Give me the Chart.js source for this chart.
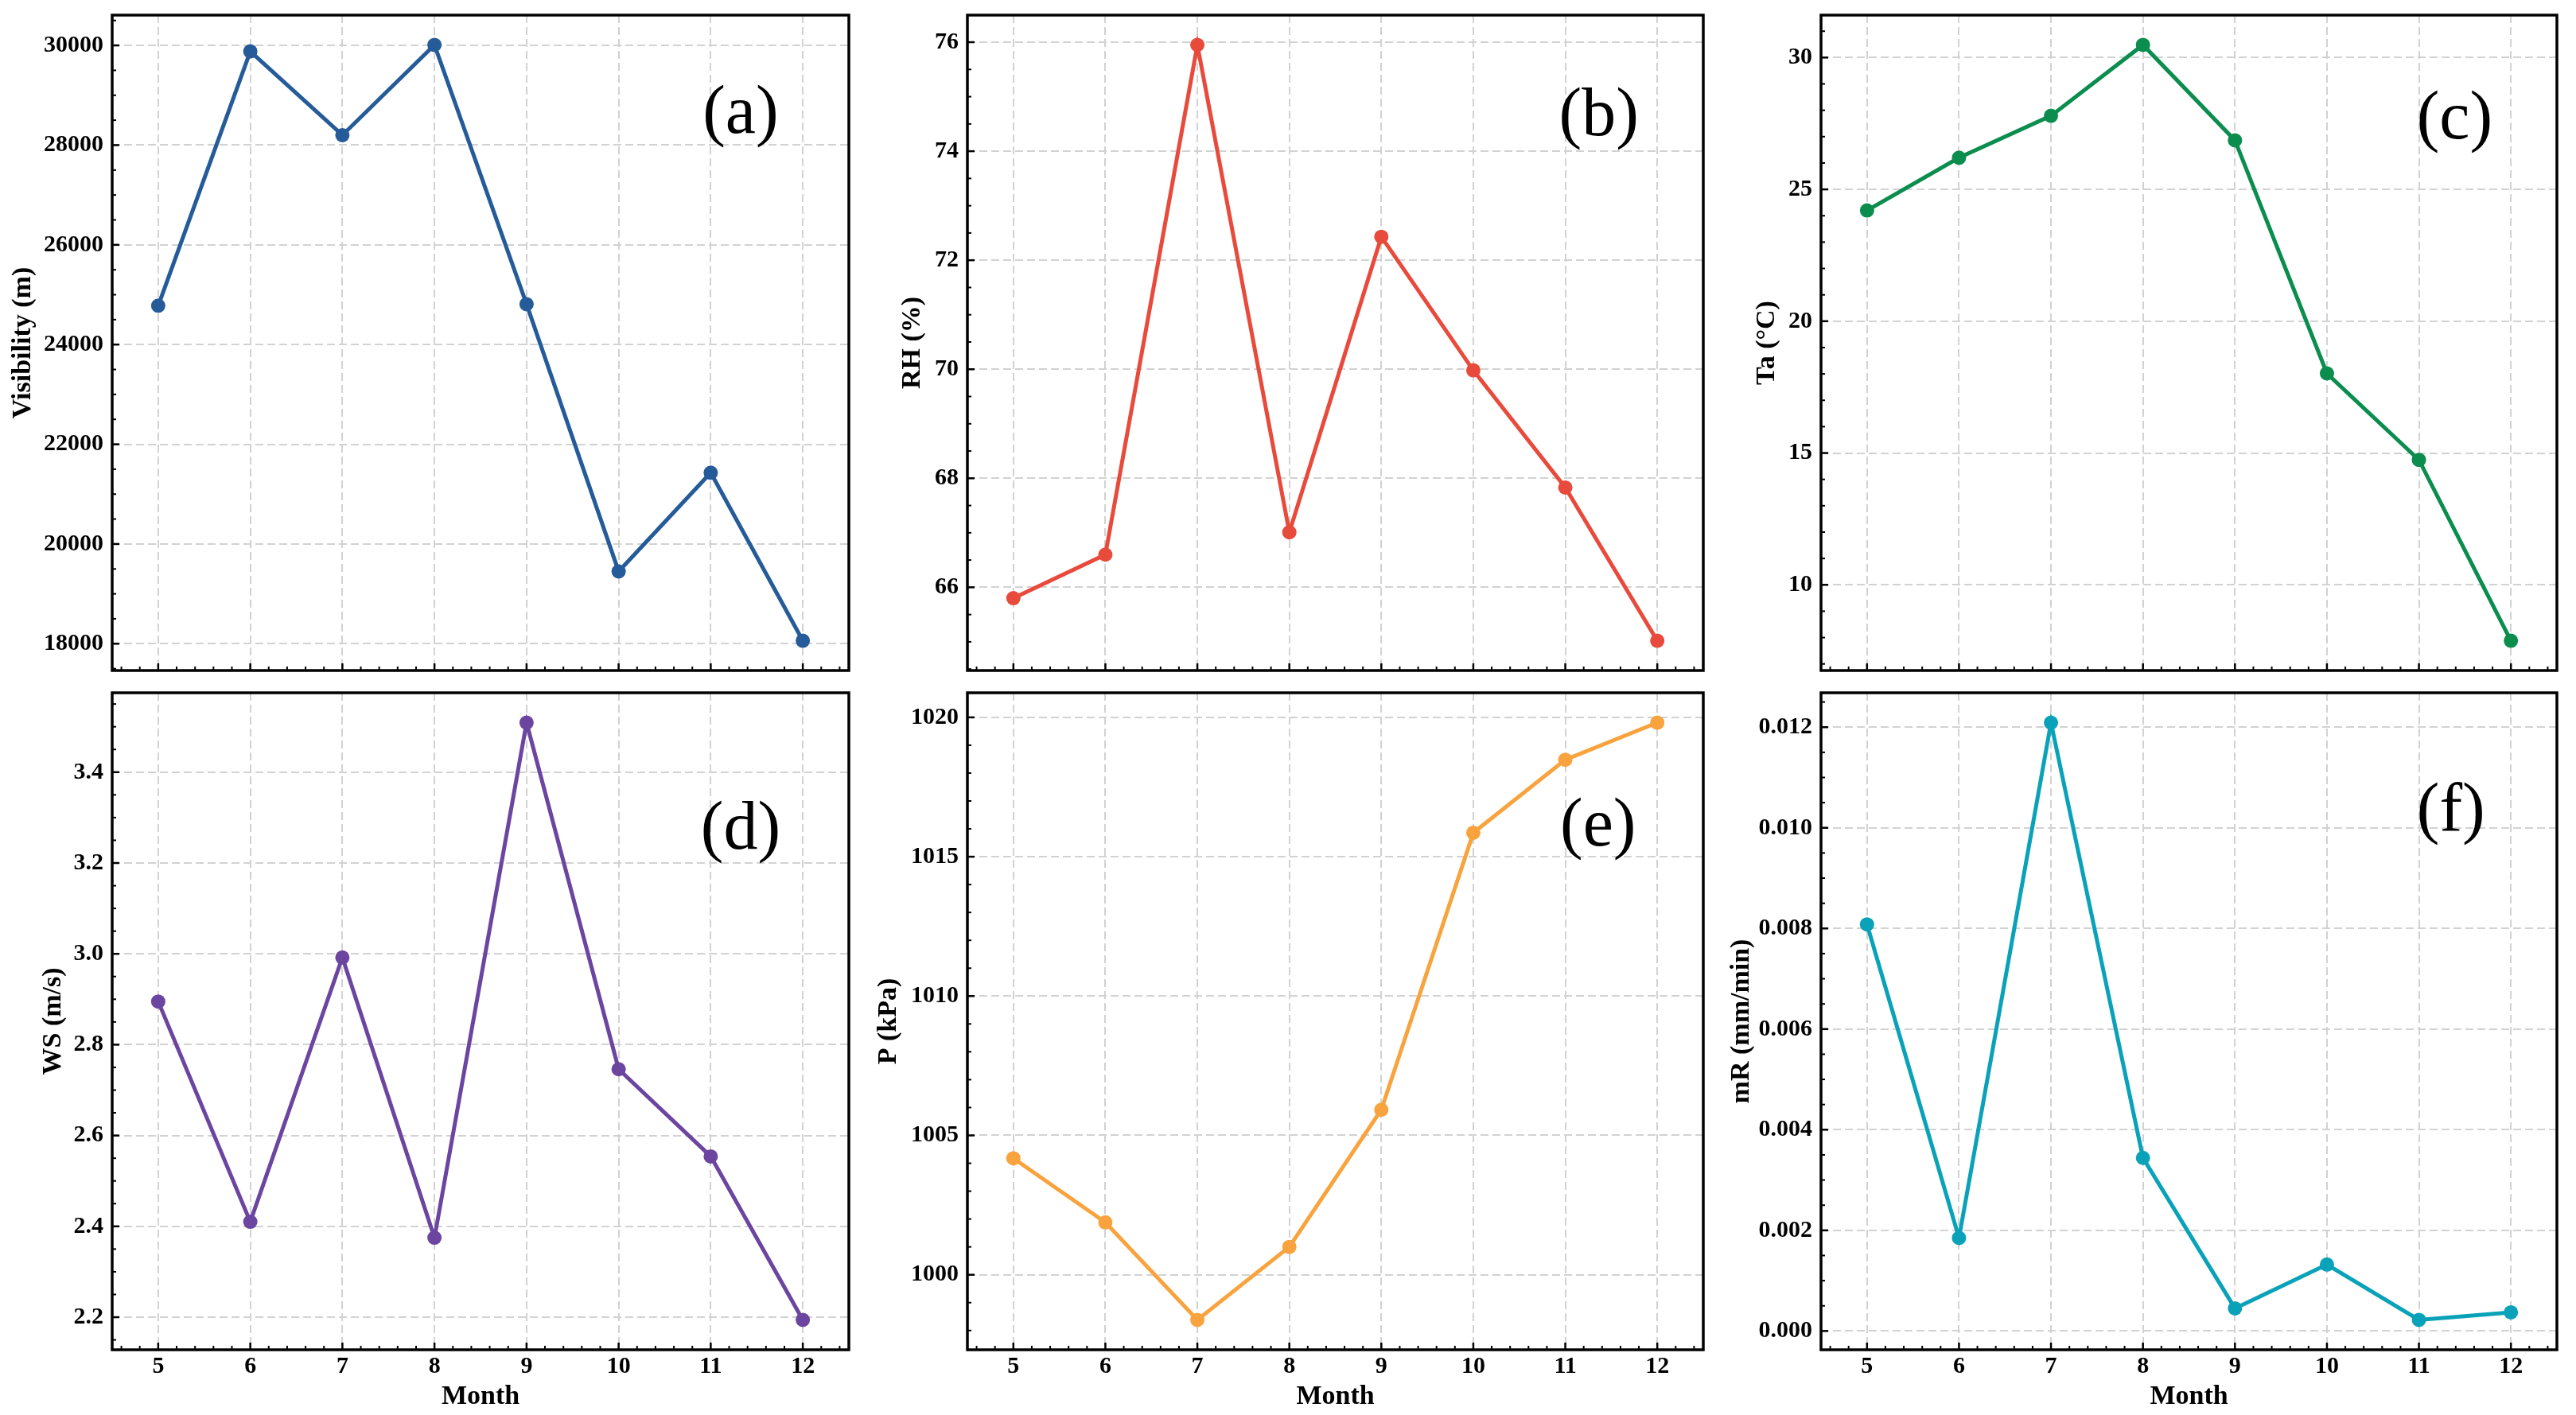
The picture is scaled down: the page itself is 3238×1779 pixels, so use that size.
<!DOCTYPE html>
<html>
<head>
<meta charset="utf-8">
<script src="https://cdn.jsdelivr.net/npm/chart.js@4.4.1/dist/chart.umd.min.js"></script>
<style>
html,body{margin:0;padding:0;background:#ffffff;width:3238px;height:1779px;overflow:hidden;position:relative;}
canvas{position:absolute;}
</style>
</head>
<body>
<script>
// ---------------- DATA ----------------
const months = [5, 6, 7, 8, 9, 10, 11, 12];
const visibility = [24780, 29880, 28200, 30010, 24810, 19450, 21430, 18060];
const rh = [65.80, 66.60, 75.95, 67.01, 72.43, 69.98, 67.83, 65.02];
const ta = [24.20, 26.20, 27.79, 30.48, 26.86, 18.02, 14.74, 7.88];
const ws = [2.895, 2.410, 2.992, 2.375, 3.509, 2.746, 2.554, 2.194];
const pressure = [1004.18, 1001.88, 998.38, 1001.00, 1005.92, 1015.86, 1018.48, 1019.81];
const mr = [0.00808, 0.00185, 0.01209, 0.00344, 0.00045, 0.00132, 0.00022, 0.00037];

const seriesList = [visibility, rh, ta, ws, pressure, mr];
const yTitles = ['Visibility (m)', 'RH (%)', 'Ta (°C)', 'WS (m/s)', 'P (kPa)', 'mR (mm/min)'];
const panelLabels = ['(a)', '(b)', '(c)', '(d)', '(e)', '(f)'];
const xTitle = 'Month';
const yMajorSteps = [2000, 2, 5, 0.2, 5, 0.002];
const yMinorSteps = [500, 0.5, 1, 0.05, 1, 0.0005];
const yDecimals = [0, 0, 0, 1, 0, 3];
const xMinorStep = 0.2;

// ---------------- STYLE / LAYOUT ----------------
const seriesColors = ['#255b98', '#e84a3b', '#0b8d4e', '#6b45a0', '#f8a33e', '#0aa2b8'];
const FONT = '"Liberation Serif", "Times New Roman", serif';
const TICK_SIZE = 30, TITLE_SIZE = 34, LABEL_SIZE = 86;
const colLR = [[141, 1067], [1216, 2141], [2289, 3214]];
const rowTB = [[19, 843], [871, 1697]];
const yTitleX = [29, 1147, 2221, 67, 1117, 2189];
const monthTitleY = 1756;
const labelPos = [[0.853, 0.180], [0.858, 0.183], [0.861, 0.188], [0.853, 0.237], [0.857, 0.232], [0.856, 0.209]];
const PAGE_H = 1779;

const framePlugin = {
  id: 'frame',
  afterDraw(chart) {
    const o = chart.options.plugins.frame;
    const ctx = chart.ctx, a = chart.chartArea;
    const xs = chart.scales.x, ys = chart.scales.y;
    ctx.save();
    ctx.strokeStyle = '#000';
    ctx.lineCap = 'butt';
    // x ticks
    ctx.lineWidth = 2.5;
    xs.ticks.forEach(t => {
      const px = xs.getPixelForValue(t.value);
      ctx.beginPath(); ctx.moveTo(px, a.bottom); ctx.lineTo(px, a.bottom - 9); ctx.stroke();
    });
    ctx.lineWidth = 2;
    for (let k = Math.ceil(xs.min / xMinorStep - 1e-6); k * xMinorStep <= xs.max + 1e-9; k++) {
      const v = k * xMinorStep;
      if (xs.ticks.some(t => Math.abs(t.value - v) < 1e-6)) continue;
      const px = xs.getPixelForValue(v);
      ctx.beginPath(); ctx.moveTo(px, a.bottom); ctx.lineTo(px, a.bottom - 5); ctx.stroke();
    }
    // y ticks
    ctx.lineWidth = 2.5;
    ys.ticks.forEach(t => {
      const py = ys.getPixelForValue(t.value);
      ctx.beginPath(); ctx.moveTo(a.left, py); ctx.lineTo(a.left + 9, py); ctx.stroke();
    });
    ctx.lineWidth = 2;
    const ms = o.yMinor;
    for (let k = Math.ceil(ys.min / ms - 1e-6); k * ms <= ys.max + ms * 1e-6; k++) {
      const v = k * ms;
      if (ys.ticks.some(t => Math.abs(t.value - v) < ms * 1e-3)) continue;
      const py = ys.getPixelForValue(v);
      ctx.beginPath(); ctx.moveTo(a.left, py); ctx.lineTo(a.left + 5, py); ctx.stroke();
    }
    // box
    ctx.lineWidth = 3.5;
    ctx.strokeRect(a.left, a.top, a.right - a.left, a.bottom - a.top);
    // panel label
    ctx.fillStyle = '#000';
    ctx.font = LABEL_SIZE + 'px ' + FONT;
    ctx.textAlign = 'center';
    ctx.textBaseline = 'alphabetic';
    ctx.fillText(o.label, a.left + o.lx * (a.right - a.left), a.top + o.ly * (a.bottom - a.top));
    ctx.restore();
  }
};

function makePanel(i) {
  const col = i % 3, row = Math.floor(i / 3);
  const [L, R] = colLR[col];
  const [T, B] = rowTB[row];
  const isBottom = row === 1;
  const titleOffset = TITLE_SIZE * 1.2 / 2;
  const cLeft = Math.round(yTitleX[i] - titleOffset);
  const cTop = T - 40;
  const cRight = R + 40;
  const xScaleBottom = monthTitleY + titleOffset;
  const cBottom = isBottom ? PAGE_H : B + 40;
  const padBottom = isBottom ? cBottom - xScaleBottom : 40;
  const xHeight = isBottom ? xScaleBottom - B : 0;

  const cv = document.createElement('canvas');
  cv.width = cRight - cLeft;
  cv.height = cBottom - cTop;
  cv.style.left = cLeft + 'px';
  cv.style.top = cTop + 'px';
  cv.style.width = cv.width + 'px';
  cv.style.height = cv.height + 'px';
  document.body.appendChild(cv);

  const vals = seriesList[i];
  const dmin = Math.min(...vals), dmax = Math.max(...vals);
  const margin = 0.05 * (dmax - dmin);
  const yMin = dmin - margin, yMax = dmax + margin;
  const step = yMajorSteps[i];
  const dec = yDecimals[i];

  new Chart(cv, {
    type: 'line',
    data: {
      datasets: [{
        data: months.map((m, k) => ({ x: m, y: vals[k] })),
        borderColor: seriesColors[i],
        backgroundColor: seriesColors[i],
        pointBackgroundColor: seriesColors[i],
        pointBorderColor: seriesColors[i],
        pointBorderWidth: 0,
        pointRadius: 9,
        borderWidth: 5,
        tension: 0,
        fill: false
      }]
    },
    options: {
      responsive: false,
      animation: false,
      events: [],
      layout: { padding: { left: 0, top: 40, right: 40, bottom: padBottom } },
      plugins: {
        legend: { display: false },
        tooltip: { enabled: false },
        frame: { label: panelLabels[i], lx: labelPos[i][0], ly: labelPos[i][1], yMinor: yMinorSteps[i] }
      },
      scales: {
        x: {
          type: 'linear',
          min: 4.5,
          max: 12.5,
          afterBuildTicks: s => { s.ticks = months.map(m => ({ value: m })); },
          afterFit: s => { s.height = xHeight; s.paddingLeft = 0; s.paddingRight = 0; s.paddingTop = 0; s.paddingBottom = 0; },
          ticks: {
            display: isBottom,
            autoSkip: false,
            maxRotation: 0,
            padding: 3,
            color: '#000',
            font: { family: FONT, size: TICK_SIZE, weight: 'bold' },
            callback: v => String(v)
          },
          grid: { color: '#d2d2d2', lineWidth: 2, drawTicks: false, borderDash: [10, 5] },
          border: { display: false, dash: [10, 5] },
          title: {
            display: isBottom,
            text: xTitle,
            color: '#000',
            padding: 0,
            font: { family: FONT, size: TITLE_SIZE, weight: 'bold' }
          }
        },
        y: {
          type: 'linear',
          min: yMin,
          max: yMax,
          afterBuildTicks: s => {
            const t = [];
            for (let k = Math.ceil(yMin / step - 1e-9); k * step <= yMax + step * 1e-9; k++) {
              t.push({ value: +(k * step).toFixed(10) });
            }
            s.ticks = t;
          },
          afterFit: s => { s.width = L - cLeft; s.paddingLeft = 0; s.paddingRight = 0; s.paddingTop = 0; s.paddingBottom = 0; },
          ticks: {
            autoSkip: false,
            padding: 11,
            color: '#000',
            font: { family: FONT, size: TICK_SIZE, weight: 'bold' },
            callback: v => Number(v).toFixed(dec)
          },
          grid: { color: '#d2d2d2', lineWidth: 2, drawTicks: false, borderDash: [10, 5] },
          border: { display: false, dash: [10, 5] },
          title: {
            display: true,
            text: yTitles[i],
            color: '#000',
            padding: 0,
            font: { family: FONT, size: TITLE_SIZE, weight: 'bold' }
          }
        }
      }
    },
    plugins: [framePlugin]
  });
}

for (let i = 0; i < 6; i++) makePanel(i);
</script>
</body>
</html>
